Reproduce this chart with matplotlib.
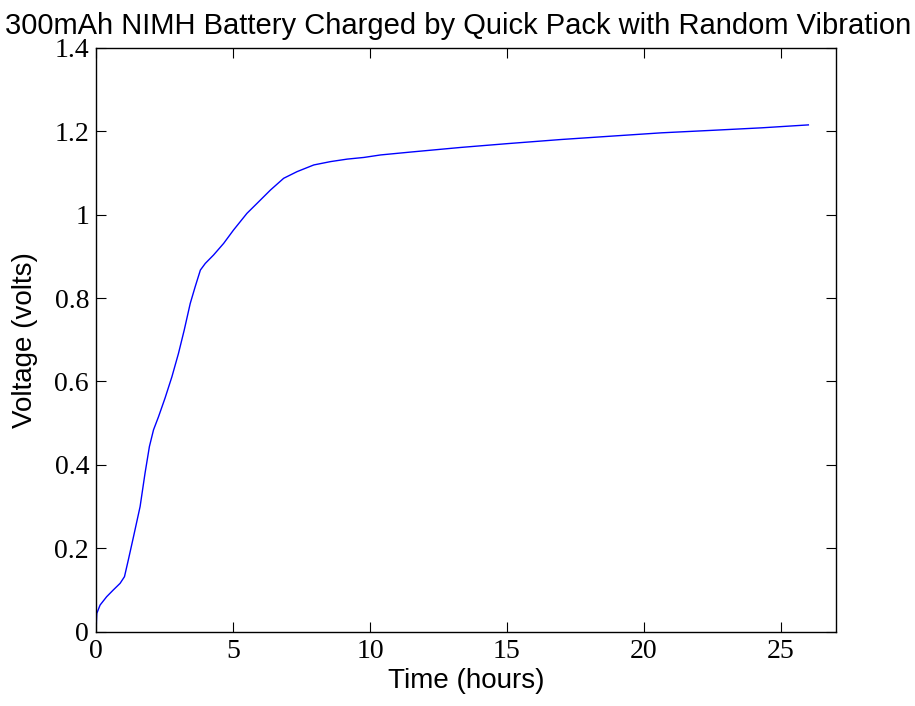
import matplotlib
matplotlib.use('Agg')
import matplotlib.pyplot as plt

# Voltage readings during the charge
time_hours = [0.0, 0.03, 0.15, 0.39, 0.63, 0.88, 1.04, 1.18, 1.37, 1.61, 1.79,
              1.95, 2.10, 2.28, 2.52, 2.77, 3.01, 3.22, 3.44, 3.62, 3.81, 3.99,
              4.29, 4.66, 5.02, 5.51, 5.88, 6.37, 6.85, 7.34, 7.95, 8.56, 9.17,
              9.78, 10.39, 11.5, 13.32, 15.0, 16.98, 18.8, 20.64, 22.5, 24.3, 26.0]
voltage = [0.0, 0.044, 0.064, 0.084, 0.10, 0.116, 0.132, 0.172, 0.228, 0.30, 0.38,
           0.444, 0.484, 0.515, 0.56, 0.611, 0.667, 0.723, 0.787, 0.827, 0.867, 0.883,
           0.903, 0.931, 0.963, 1.003, 1.027, 1.059, 1.087, 1.103, 1.119, 1.127, 1.133,
           1.137, 1.143, 1.150, 1.161, 1.170, 1.180, 1.188, 1.196, 1.202, 1.208, 1.215]

fig = plt.figure(figsize=(9.15, 7.06), dpi=100)
ax = fig.add_axes([0.1049, 0.1052, 0.8085, 0.8272])

ax.plot(time_hours, voltage, color='#0000ff', linewidth=1.0)

ax.set_xlim(0, 27)
ax.set_ylim(0, 1.4)
ax.set_xticks([0, 5, 10, 15, 20, 25])
ax.set_yticks([0, 0.2, 0.4, 0.6, 0.8, 1.0, 1.2, 1.4])
ax.set_yticklabels(['0', '0.2', '0.4', '0.6', '0.8', '1', '1.2', '1.4'])

ax.tick_params(direction='in', top=True, right=True, length=7, width=0.8,
               labelsize=20, pad=5)
for lbl in ax.get_xticklabels() + ax.get_yticklabels():
    lbl.set_family('Liberation Serif')
for s in ax.spines.values():
    s.set_linewidth(1.0)

ax.set_xlabel('Time (hours)', family='Liberation Sans', fontsize=20, labelpad=3)
ax.set_ylabel('Voltage (volts)', family='Liberation Sans', fontsize=20, labelpad=12)
ax.set_title('300mAh NIMH Battery Charged by Quick Pack with Random Vibration',
             family='Liberation Sans', fontsize=21, pad=10, x=0.49)

fig.savefig('out.png', dpi=100)
